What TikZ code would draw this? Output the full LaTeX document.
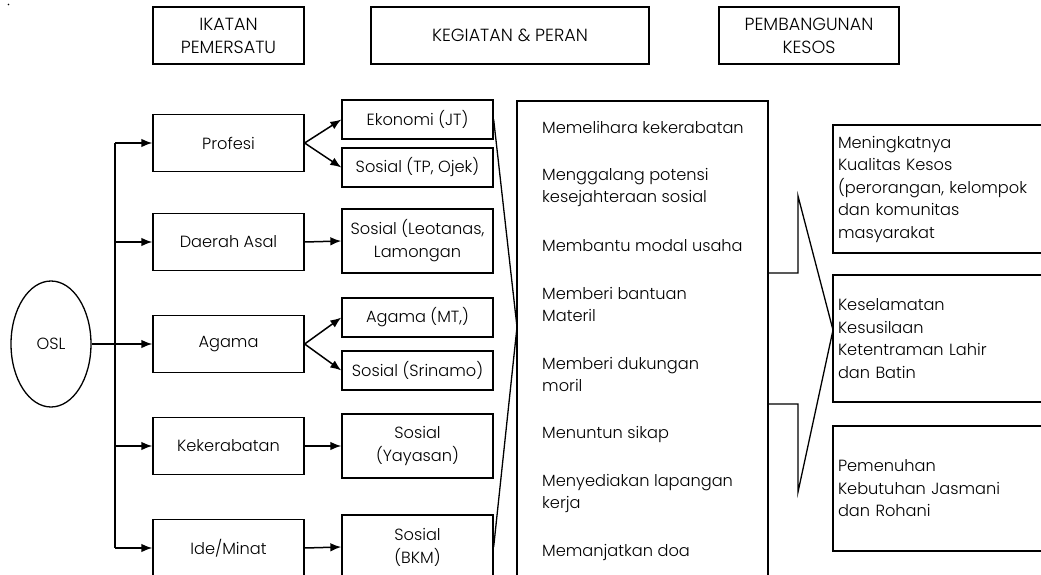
\documentclass[tikz,border=0pt]{standalone}
\usepackage{fontspec}
\setmainfont{Poppins Light}
\usetikzlibrary{arrows.meta,shapes.geometric}
\newcommand\fs{\fontsize{16.2}{23}\selectfont}
\newcommand\hfs{\fontsize{17.6}{23}\selectfont}
\tikzset{
  hbox/.style={draw, line width=1.3pt, minimum height=57pt, inner sep=0pt, align=center, font=\hfs},
  lbox/.style={draw, line width=1.3pt, minimum width=151pt, minimum height=57pt, inner sep=0pt, align=center},
  sbox/.style={draw, line width=1.3pt, minimum width=151pt, minimum height=39pt, inner sep=0pt, align=center},
  tbox/.style={draw, line width=1.3pt, minimum width=151pt, minimum height=64pt, inner sep=0pt, align=center},
  rbox/.style={draw, line width=1.3pt, minimum width=227pt, text width=217pt, inner xsep=5pt, inner ysep=0pt, align=left, font=\fontsize{16.2}{22.5}\selectfont},
  arr/.style={-{Latex[length=11pt,width=8.5pt]}, line width=1.5pt},
  ln/.style={line width=1.3pt},
  item/.style={anchor=base west, inner sep=0pt},
}
\begin{document}
\begin{tikzpicture}[x=1pt, y=-1pt, font=\fs]
\useasboundingbox (0,0) rectangle (1041,575);
\clip (0,0) rectangle (1041,575);
\fill (8.5,4.5) circle (0.9);

% headers
\node[hbox, minimum width=151pt] (h1) at (228.5,35.5) {IKATAN\\PEMERSATU};
\node[hbox, minimum width=278pt] (h2) at (510,35.5) {KEGIATAN \& PERAN};
\node[hbox, minimum width=180pt] (h3) at (809,35.5) {PEMBANGUNAN\\KESOS};

% OSL
\node[draw, ellipse, line width=1.3pt, minimum width=80pt, minimum height=126pt, inner sep=0pt] (osl) at (51,344) {OSL};

% first level
\node[lbox] (profesi) at (228.5,143) {Profesi};
\node[lbox] (daerah) at (228.5,242) {Daerah Asal};
\node[lbox] (agama) at (228.5,344) {Agama};
\node[lbox] (kerabat) at (228.5,446) {Kekerabatan};
\node[lbox] (ide) at (228.5,548) {Ide/Minat};

% second level
\node[sbox] (ekonomi) at (417.5,119.5) {Ekonomi (JT)};
\node[sbox] (sostp) at (417.5,167.5) {Sosial (TP, Ojek)};
\node[tbox] (leotanas) at (417.5,241) {Sosial (Leotanas,\\Lamongan};
\node[sbox] (agamamt) at (417.5,317.5) {Agama (MT,)};
\node[sbox] (srinamo) at (417.5,370.5) {Sosial (Srinamo)};
\node[tbox] (yayasan) at (417.5,446) {Sosial\\(Yayasan)};
\node[tbox] (bkm) at (417.5,547) {Sosial\\(BKM)};

% trunk
\coordinate (ttop) at (115,143);
\coordinate (tbot) at (115,548);
\draw[ln] (ttop) -- (tbot);
\draw[arr] (ttop) -- (profesi.west);
\draw[arr] (daerah.west -| ttop) -- (daerah.west);
\draw[arr] (osl.east) -- (agama.west);
\draw[arr] (kerabat.west -| ttop) -- (kerabat.west);
\draw[arr] (tbot) -- (ide.west);

% level arrows
\draw[arr] (profesi.east) -- (ekonomi.west);
\draw[arr] (profesi.east) -- (sostp.west);
\draw[arr] (daerah.east) -- (leotanas.west);
\draw[arr] (agama.east) -- (agamamt.west);
\draw[arr] (agama.east) -- (srinamo.west);
\draw[arr] (kerabat.east) -- (yayasan.west);
\draw[arr] (ide.east) -- (bkm.west);

% activities box
\node[draw, line width=1.3pt, minimum width=251pt, minimum height=499pt, inner sep=0pt] (act) at (642.5,350.5) {};
\coordinate (wapex) at (517,327);
\draw[ln, line join=miter] (ekonomi.east) -- (wapex) -- (bkm.east);

\node[item] (a1) at (542,134) {Memelihara kekerabatan};
\node[item] (a2) at (542,180) {Menggalang potensi};
\node[item] (a3) at (542,202) {kesejahteraan sosial};
\node[item] (a4) at (542,251) {Membantu modal usaha};
\node[item] (a5) at (542,299) {Memberi bantuan};
\node[item] (a6) at (542,321) {Materil};
\node[item] (a7) at (542,369) {Memberi dukungan};
\node[item] (a8) at (542,391) {moril};
\node[item] (a9) at (542,438) {Menuntun sikap};
\node[item] (a10) at (542,486) {Menyediakan lapangan};
\node[item] (a11) at (542,508) {kerja};
\node[item] (a12) at (542,556) {Memanjatkan doa};

% right arrow callout
\coordinate (c1) at (768,273);
\coordinate (c2) at (798,273);
\coordinate (c3) at (798,196);
\coordinate (tip) at (833,330);
\coordinate (c5) at (798,492);
\coordinate (c6) at (798,404);
\coordinate (c7) at (768,404);
\draw[ln, line join=miter] (c1) -- (c2) -- (c3) -- (tip) -- (c5) -- (c6) -- (c7);

% result boxes
\node[rbox, minimum height=128pt] (r1) at (946.5,189) {Meningkatnya\\Kualitas Kesos\\(perorangan, kelompok\\dan komunitas\\masyarakat};
\node[rbox, minimum height=127pt] (r2) at (946.5,338.5) {Keselamatan\\Kesusilaan\\Ketentraman Lahir\\dan Batin};
\node[rbox, minimum height=125pt] (r3) at (946.5,488.5) {Pemenuhan\\Kebutuhan Jasmani\\dan Rohani};
\end{tikzpicture}
\end{document}
